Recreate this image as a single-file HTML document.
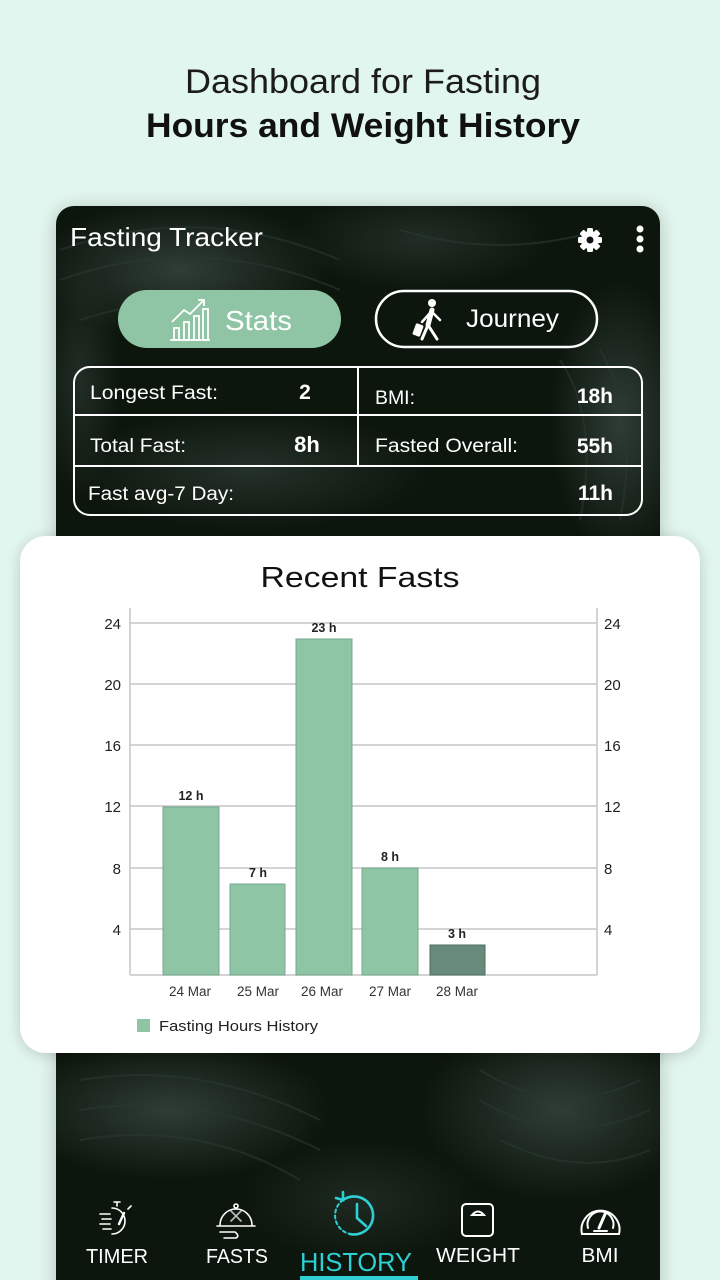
<!DOCTYPE html>
<html>
<head>
<meta charset="utf-8">
<style>
html,body{margin:0;padding:0;background:#e1f6ee;}
svg{display:block;}
text{font-family:"Liberation Sans",sans-serif;}
</style>
</head>
<body>
<svg width="720" height="1280" viewBox="0 0 720 1280" xmlns="http://www.w3.org/2000/svg">
<defs>
  <filter id="sh" x="-10%" y="-10%" width="120%" height="120%">
    <feGaussianBlur in="SourceAlpha" stdDeviation="9"/>
    <feOffset dx="0" dy="2" result="b"/>
    <feComponentTransfer><feFuncA type="linear" slope="0.22"/></feComponentTransfer>
    <feMerge><feMergeNode/><feMergeNode in="SourceGraphic"/></feMerge>
  </filter>
  <filter id="sh2" x="-10%" y="-10%" width="120%" height="120%">
    <feGaussianBlur in="SourceAlpha" stdDeviation="7"/>
    <feOffset dx="0" dy="2" result="b"/>
    <feComponentTransfer><feFuncA type="linear" slope="0.18"/></feComponentTransfer>
    <feMerge><feMergeNode/><feMergeNode in="SourceGraphic"/></feMerge>
  </filter>
  <radialGradient id="lg" cx="50%" cy="50%" r="50%">
    <stop offset="0" stop-color="#3a4a42" stop-opacity="0.75"/>
    <stop offset="1" stop-color="#3a4a42" stop-opacity="0"/>
  </radialGradient>
  <clipPath id="phoneclip"><rect x="56" y="206" width="604" height="1100" rx="18"/></clipPath>
</defs>

<rect x="0" y="0" width="720" height="1280" fill="#e1f6ee"/>

<!-- Header -->
<text x="363" y="93" font-size="34" fill="#1c1c1c" text-anchor="middle" textLength="356" lengthAdjust="spacingAndGlyphs">Dashboard for Fasting</text>
<text x="363" y="137" font-size="34" font-weight="bold" fill="#111" text-anchor="middle" textLength="434" lengthAdjust="spacingAndGlyphs">Hours and Weight History</text>

<!-- Phone -->
<g filter="url(#sh)">
  <rect x="56" y="206" width="604" height="1100" rx="18" fill="#0d1411"/>
</g>
<g clip-path="url(#phoneclip)">
  <ellipse cx="180" cy="270" rx="150" ry="70" fill="url(#lg)"/>
  <ellipse cx="420" cy="240" rx="130" ry="50" fill="url(#lg)" opacity="0.6"/>
  <ellipse cx="620" cy="420" rx="70" ry="140" fill="url(#lg)"/>
  <ellipse cx="250" cy="470" rx="180" ry="60" fill="url(#lg)" opacity="0.7"/>
  <ellipse cx="80" cy="380" rx="40" ry="120" fill="url(#lg)" opacity="0.6"/>
  <ellipse cx="170" cy="1110" rx="160" ry="70" fill="url(#lg)"/>
  <ellipse cx="560" cy="1110" rx="140" ry="90" fill="url(#lg)"/>
  <ellipse cx="360" cy="1200" rx="120" ry="60" fill="url(#lg)" opacity="0.5"/>
  <g stroke="#2a3832" stroke-width="2" fill="none" opacity="0.6">
    <path d="M60 250 Q200 200 340 260"/>
    <path d="M60 280 Q200 230 340 290"/>
    <path d="M80 320 Q200 280 320 330"/>
    <path d="M400 230 Q500 260 600 230"/>
    <path d="M560 360 Q600 420 580 520"/>
    <path d="M600 350 Q640 420 620 520"/>
    <path d="M80 1080 Q200 1060 320 1120"/>
    <path d="M80 1110 Q200 1090 320 1150"/>
    <path d="M80 1140 Q200 1120 300 1180"/>
    <path d="M480 1070 Q560 1120 640 1080"/>
    <path d="M480 1100 Q560 1150 650 1110"/>
    <path d="M500 1140 Q580 1180 650 1150"/>
  </g>
</g>

<!-- App bar -->
<text x="70" y="246" font-size="26" fill="#fff" textLength="193" lengthAdjust="spacingAndGlyphs">Fasting Tracker</text>
<g transform="translate(590,240)" fill="#fff">
  <rect x="-3" y="-12" width="6" height="24" rx="1.5"/>
  <rect x="-3" y="-12" width="6" height="24" rx="1.5" transform="rotate(45)"/>
  <rect x="-3" y="-12" width="6" height="24" rx="1.5" transform="rotate(90)"/>
  <rect x="-3" y="-12" width="6" height="24" rx="1.5" transform="rotate(135)"/>
  <circle r="9"/>
  <circle r="3.5" fill="#0d1411"/>
</g>
<circle cx="640" cy="229" r="3.5" fill="#fff"/>
<circle cx="640" cy="239" r="3.5" fill="#fff"/>
<circle cx="640" cy="249" r="3.5" fill="#fff"/>

<!-- Stats button -->
<rect x="118" y="290" width="223" height="58" rx="29" fill="#8fc5a5"/>
<g stroke="#fff" stroke-width="1.8" fill="none">
  <line x1="170" y1="340" x2="210" y2="340"/>
  <rect x="174" y="328" width="5" height="12"/>
  <rect x="184" y="322" width="5" height="18"/>
  <rect x="194" y="316" width="5" height="24"/>
  <rect x="203" y="309" width="5" height="31"/>
  <polyline points="172,322 184,310 190,314 204,300"/>
  <polyline points="198,300 204,300 204,306"/>
</g>
<text x="225" y="330" font-size="28" fill="#fff" textLength="67" lengthAdjust="spacingAndGlyphs">Stats</text>

<!-- Journey button -->
<rect x="376" y="291" width="221" height="56" rx="28" fill="none" stroke="#fff" stroke-width="2.5"/>
<g fill="#fff" stroke="#fff" stroke-linecap="round">
  <circle cx="432" cy="303" r="4" stroke="none"/>
  <line x1="432" y1="310" x2="428" y2="325" stroke-width="5"/>
  <line x1="428" y1="325" x2="422" y2="339" stroke-width="3"/>
  <line x1="428" y1="325" x2="437" y2="339" stroke-width="3"/>
  <line x1="432" y1="312" x2="440" y2="320" stroke-width="2.5"/>
  <line x1="430" y1="313" x2="422" y2="322" stroke-width="2.5"/>
  <rect x="414" y="324" width="8" height="12" rx="1.5" stroke="none" transform="rotate(20 418 330)"/>
</g>
<text x="466" y="327" font-size="25" fill="#fff" textLength="93" lengthAdjust="spacingAndGlyphs">Journey</text>

<!-- Stats table -->
<rect x="74" y="367" width="568" height="148" rx="16" fill="none" stroke="#fff" stroke-width="2"/>
<line x1="74" y1="415" x2="642" y2="415" stroke="#fff" stroke-width="2"/>
<line x1="74" y1="466" x2="642" y2="466" stroke="#fff" stroke-width="2"/>
<line x1="358" y1="367" x2="358" y2="466" stroke="#fff" stroke-width="2"/>
<g fill="#fff" font-size="19">
  <text x="90" y="399" textLength="128" lengthAdjust="spacingAndGlyphs">Longest Fast:</text>
  <text x="375" y="404" textLength="40" lengthAdjust="spacingAndGlyphs">BMI:</text>
  <text x="90" y="452" textLength="96" lengthAdjust="spacingAndGlyphs">Total Fast:</text>
  <text x="375" y="452" textLength="143" lengthAdjust="spacingAndGlyphs">Fasted Overall:</text>
  <text x="88" y="500" textLength="146" lengthAdjust="spacingAndGlyphs">Fast avg-7 Day:</text>
</g>
<g fill="#fff" font-size="21" font-weight="bold">
  <text x="305" y="399" text-anchor="middle">2</text>
  <text x="613" y="403" text-anchor="end">18h</text>
  <text x="307" y="452" text-anchor="middle" font-size="22">8h</text>
  <text x="613" y="453" text-anchor="end">55h</text>
  <text x="613" y="500" text-anchor="end">11h</text>
</g>

<!-- Chart card -->
<g filter="url(#sh2)">
  <rect x="20" y="536" width="680" height="517" rx="26" fill="#fff"/>
</g>
<text x="360" y="587" font-size="29" fill="#111" text-anchor="middle" textLength="199" lengthAdjust="spacingAndGlyphs">Recent Fasts</text>

<g stroke="#c6c6c6" stroke-width="1.5">
  <line x1="130" y1="623" x2="597" y2="623"/>
  <line x1="130" y1="684" x2="597" y2="684"/>
  <line x1="130" y1="745" x2="597" y2="745"/>
  <line x1="130" y1="806" x2="597" y2="806"/>
  <line x1="130" y1="868" x2="597" y2="868"/>
  <line x1="130" y1="929" x2="597" y2="929"/>
  <line x1="130" y1="608" x2="130" y2="975"/>
  <line x1="597" y1="608" x2="597" y2="975"/>
  <line x1="130" y1="975" x2="597" y2="975"/>
</g>
<g font-size="15" fill="#222" text-anchor="end">
  <text x="121" y="629">24</text>
  <text x="121" y="690">20</text>
  <text x="121" y="751">16</text>
  <text x="121" y="812">12</text>
  <text x="121" y="874">8</text>
  <text x="121" y="935">4</text>
</g>
<g font-size="15" fill="#222" text-anchor="start">
  <text x="604" y="629">24</text>
  <text x="604" y="690">20</text>
  <text x="604" y="751">16</text>
  <text x="604" y="812">12</text>
  <text x="604" y="874">8</text>
  <text x="604" y="935">4</text>
</g>

<g stroke="#78a88e" stroke-width="1">
  <rect x="163" y="807" width="56" height="168" fill="#8dc5a5"/>
  <rect x="230" y="884" width="55" height="91" fill="#8dc5a5"/>
  <rect x="296" y="639" width="56" height="336" fill="#8dc5a5"/>
  <rect x="362" y="868" width="56" height="107" fill="#8dc5a5"/>
  <rect x="430" y="945" width="55" height="30" fill="#688a7a" stroke="#4e6d5e"/>
</g>
<g font-size="12.5" fill="#222" text-anchor="middle" font-weight="bold">
  <text x="191" y="800">12 h</text>
  <text x="258" y="877">7 h</text>
  <text x="324" y="632">23 h</text>
  <text x="390" y="861">8 h</text>
  <text x="457" y="938">3 h</text>
</g>
<g font-size="13.5" fill="#333" text-anchor="middle">
  <text x="190" y="996">24 Mar</text>
  <text x="258" y="996">25 Mar</text>
  <text x="322" y="996">26 Mar</text>
  <text x="390" y="996">27 Mar</text>
  <text x="457" y="996">28 Mar</text>
</g>
<rect x="137" y="1019" width="13" height="13" fill="#8dc5a5"/>
<text x="159" y="1031" font-size="15" fill="#222" textLength="159" lengthAdjust="spacingAndGlyphs">Fasting Hours History</text>

<!-- Bottom nav -->
<!-- Timer icon -->
<g stroke="#fff" stroke-width="1.6" fill="none" stroke-linecap="round">
  <path d="M112 1208 A13 13 0 1 1 112 1234"/>
  <line x1="117" y1="1206" x2="117" y2="1202"/>
  <line x1="114" y1="1202" x2="120" y2="1202"/>
  <line x1="128" y1="1209" x2="131" y2="1206"/>
  <line x1="100" y1="1214" x2="110" y2="1214"/>
  <line x1="102" y1="1219" x2="111" y2="1219"/>
  <line x1="100" y1="1224" x2="110" y2="1224"/>
  <line x1="103" y1="1229" x2="111" y2="1229"/>
  <line x1="119" y1="1224" x2="124" y2="1213" stroke-width="2.4"/>
</g>
<!-- Fasts icon (cloche) -->
<g stroke="#fff" stroke-width="1.6" fill="none" stroke-linecap="round">
  <circle cx="236" cy="1206" r="2"/>
  <path d="M220 1225 A16 16 0 0 1 252 1225"/>
  <line x1="217" y1="1226" x2="255" y2="1226"/>
  <line x1="231" y1="1211" x2="241" y2="1221" stroke="#bbb"/>
  <line x1="241" y1="1211" x2="231" y2="1221" stroke="#bbb"/>
  <path d="M220 1232 L235 1232 Q240 1236 236 1238 L224 1238"/>
</g>
<text x="237" y="1263" font-size="20" fill="#fff" text-anchor="middle" textLength="62" lengthAdjust="spacingAndGlyphs">FASTS</text>
<text x="117" y="1263" font-size="20" fill="#fff" text-anchor="middle" textLength="62" lengthAdjust="spacingAndGlyphs">TIMER</text>
<!-- History icon -->
<g stroke="#2ed0d4" stroke-width="2.6" fill="none" stroke-linecap="round">
  <path d="M343 1200 A19 19 0 1 1 350 1234"/>
  <path d="M343 1200 A19 19 0 0 0 350 1234" stroke-dasharray="3 3" stroke-width="2"/>
  <polyline points="336,1198 343,1200 343,1192"/>
  <polyline points="357,1204 357,1218 366,1226"/>
</g>
<text x="356" y="1271" font-size="26" fill="#2ed0d4" text-anchor="middle" textLength="112" lengthAdjust="spacingAndGlyphs">HISTORY</text>
<rect x="300" y="1276" width="118" height="4" fill="#2ed0d4"/>
<!-- Weight icon -->
<g stroke="#fff" stroke-width="2" fill="none">
  <rect x="462" y="1204" width="31" height="32" rx="4"/>
  <path d="M472 1215 Q478 1208 484 1215 Z"/>
</g>
<text x="478" y="1262" font-size="20" fill="#fff" text-anchor="middle" textLength="84" lengthAdjust="spacingAndGlyphs">WEIGHT</text>
<!-- BMI icon -->
<g stroke="#fff" stroke-width="2" fill="none" stroke-linecap="round">
  <path d="M582 1234 A19 19 0 1 1 619 1234 Z"/>
  <path d="M588 1228 A13 13 0 1 1 613 1228"/>
  <line x1="599" y1="1228" x2="606" y2="1212" stroke-width="3"/>
  <line x1="594" y1="1231" x2="607" y2="1231"/>
</g>
<text x="600" y="1262" font-size="20" fill="#fff" text-anchor="middle" textLength="37" lengthAdjust="spacingAndGlyphs">BMI</text>
</svg>
</body>
</html>
